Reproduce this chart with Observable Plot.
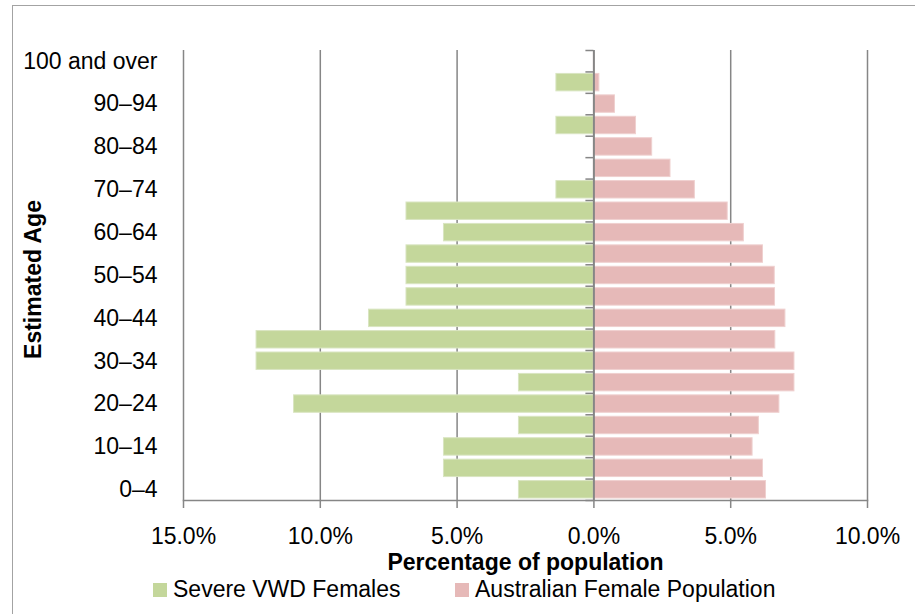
<!DOCTYPE html>
<html>
<head>
<meta charset="utf-8">
<script src="https://cdn.jsdelivr.net/npm/d3@7"></script>
<script src="https://cdn.jsdelivr.net/npm/@observablehq/plot@0.6"></script>
<style>
  html, body { margin: 0; padding: 0; background: #fff; }
  body { width: 915px; height: 614px; position: relative; overflow: hidden; font-family: "Liberation Sans", Arial, sans-serif; }
  #border { position: absolute; left: 12px; top: 5px; width: 940px; height: 640px; border-left: 1.5px solid #a3a3a3; border-top: 1.5px solid #a3a3a3; }
  #chart { position: absolute; left: 0; top: 0; }
  .leg { position: absolute; top: 578px; font-size: 23px; line-height: 23px; color: #000; white-space: nowrap; }
  .sw { position: absolute; top: 583px; width: 14px; height: 14px; }
</style>
</head>
<body>
<div id="border"></div>
<div id="chart"></div>
<div class="sw" id="sw1"></div><div class="leg" id="lg1"></div>
<div class="sw" id="sw2"></div><div class="leg" id="lg2"></div>
<script>
// Age groups, bottom to top
const ages = ["0–4","5–9","10–14","15–19","20–24","25–29","30–34","35–39","40–44","45–49",
  "50–54","55–59","60–64","65–69","70–74","75–79","80–84","85–89","90–94","95–99","100 and over"];
// Severe VWD Females (% of population), bottom to top
const vwdFemales = [2.74,5.48,5.48,2.74,10.96,2.74,12.33,12.33,8.22,6.85,
  6.85,6.85,5.48,6.85,1.37,0,0,1.37,0,1.37,0];
// Australian Female Population (%), bottom to top
const ausFemales = [6.29,6.18,5.80,6.03,6.78,7.33,7.33,6.63,7.00,6.62,
  6.61,6.18,5.48,4.89,3.69,2.80,2.13,1.54,0.77,0.20,0.02];
const xTicks = [-15,-10,-5,0,5,10];
const labelledAges = ["0–4","10–14","20–24","30–34","40–44","50–54","60–64","70–74","80–84","90–94","100 and over"];
const seriesNames = ["Severe VWD Females","Australian Female Population"];
const colors = ["#c4d79b","#e6b9b8"];

const rows = ages.map((age, i) => ({age, i, vwd: vwdFemales[i], aus: ausFemales[i]}));
const grid = "#868686";

const chart = Plot.plot({
  width: 915,
  height: 575,
  marginLeft: 183,
  marginRight: 48,
  marginTop: 50,
  marginBottom: 75,
  x: {domain: [-15, 10]},
  y: {domain: [0, ages.length]},
  style: {fontFamily: "'Liberation Sans', Arial, sans-serif", fontSize: "23px", color: "#000", background: "transparent"},
  marks: [
    Plot.ruleX(xTicks.filter(d => d !== 0), {stroke: grid, strokeWidth: 1.5}),
    Plot.rect(rows, {x1: 0, x2: d => -d.vwd, y1: "i", y2: d => d.i + 1, insetTop: 2, insetBottom: 2,
      fill: colors[0], stroke: "#d9e5c1", strokeWidth: 1}),
    Plot.rect(rows, {x1: 0, x2: "aus", y1: "i", y2: d => d.i + 1, insetTop: 2, insetBottom: 2,
      fill: colors[1], stroke: "#efd0cf", strokeWidth: 1}),
    Plot.ruleX([0], {stroke: grid, strokeWidth: 2}),
    Plot.ruleY(d3.range(ages.length + 1), {x1: 0, x2: 0, insetLeft: -8, stroke: grid, strokeWidth: 1.5}),
    Plot.frame({anchor: "bottom", stroke: grid, strokeWidth: 1.5}),
    Plot.axisX({ticks: xTicks, tickSize: 8, tickPadding: 19, stroke: grid, strokeWidth: 1.5,
      tickFormat: d => Math.abs(d).toFixed(1) + "%", label: null, fontSize: 23}),
    Plot.axisY({ticks: labelledAges.map(a => ages.indexOf(a) + 0.5), tickSize: 0, tickPadding: 26,
      tickFormat: v => ages[Math.floor(v)], label: null, fontSize: 23}),
    Plot.text(["Percentage of population"], {frameAnchor: "bottom", dy: 62, lineAnchor: "middle", textAnchor: "middle", fontWeight: "bold", fontSize: 23}),
    Plot.text(["Estimated Age"], {frameAnchor: "left", dx: -150, dy: 4, rotate: -90, textAnchor: "middle", lineAnchor: "middle", fontWeight: "bold", fontSize: 23})
  ]
});
document.getElementById("chart").appendChild(chart);

const sw1 = document.getElementById("sw1"), sw2 = document.getElementById("sw2");
const lg1 = document.getElementById("lg1"), lg2 = document.getElementById("lg2");
sw1.style.left = "153px"; sw1.style.background = colors[0];
sw2.style.left = "455px"; sw2.style.background = colors[1];
lg1.style.left = "173px"; lg1.textContent = seriesNames[0];
lg2.style.left = "475px"; lg2.textContent = seriesNames[1];
</script>
</body>
</html>
